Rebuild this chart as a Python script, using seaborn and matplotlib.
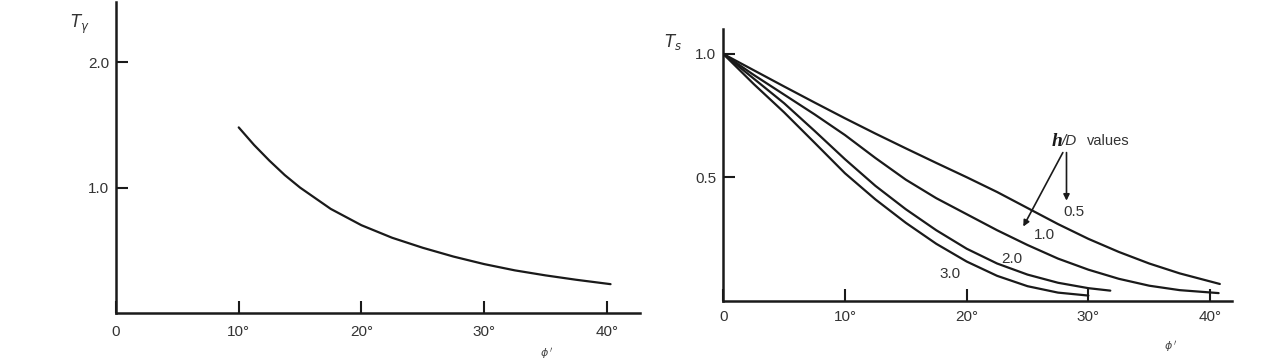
import matplotlib
matplotlib.use("Agg")
import matplotlib.pyplot as plt
import seaborn as sns
import pandas as pd

# ---- data: left panel (T_gamma vs phi) ----
phi_left = [10, 11.25, 12.5, 13.75, 15, 17.5, 20, 22.5, 25, 27.5, 30, 32.5, 35, 37.5, 40.3]
t_gamma = [1.48, 1.34, 1.215, 1.10, 1.0, 0.83, 0.70, 0.60, 0.52, 0.45, 0.39, 0.34, 0.30, 0.265, 0.23]

# ---- data: right panel (T_s vs phi for h/D values) ----
phi_05 = [0, 2.5, 5, 7.5, 10, 12.5, 15, 17.5, 20, 22.5, 25, 27.5, 30, 32.5, 35, 37.5, 40.8]
ts_05 = [1.0, 0.934, 0.868, 0.803, 0.739, 0.677, 0.617, 0.558, 0.50, 0.44, 0.375, 0.31, 0.25, 0.197, 0.15, 0.11, 0.067]
phi_10 = [0, 2.5, 5, 7.5, 10, 12.5, 15, 17.5, 20, 22.5, 25, 27.5, 30, 32.5, 35, 37.5, 40.7]
ts_10 = [1.0, 0.915, 0.835, 0.755, 0.671, 0.578, 0.49, 0.415, 0.35, 0.285, 0.225, 0.17, 0.125, 0.088, 0.06, 0.042, 0.03]
phi_20 = [0, 2.5, 5, 7.5, 10, 12.5, 15, 17.5, 20, 22.5, 25, 27.5, 30, 31.8]
ts_20 = [1.0, 0.9, 0.8, 0.688, 0.573, 0.465, 0.37, 0.285, 0.21, 0.15, 0.105, 0.072, 0.05, 0.04]
phi_30 = [0, 2.5, 5, 7.5, 10, 12.5, 15, 17.5, 20, 22.5, 25, 27.5, 30]
ts_30 = [1.0, 0.878, 0.763, 0.64, 0.516, 0.41, 0.315, 0.23, 0.158, 0.10, 0.058, 0.032, 0.02]
hd_labels = ["0.5", "1.0", "2.0", "3.0"]

x_ticks = [0, 10, 20, 30, 40]
x_ticklabels = ["0", "10°", "20°", "30°", "40°"]

sns.set_style("white")
plt.rcParams["font.family"] = ["Liberation Sans", "DejaVu Sans"]

W, H = 1265, 363
fig = plt.figure(figsize=(W / 100, H / 100), dpi=100)

ink = "#1a1a1a"

# left axes
axL = fig.add_axes([116 / W, (H - 313) / H, (640 - 116) / W, (313 - 2) / H])
# right axes
axR = fig.add_axes([723.3 / W, (H - 300.5) / H, (1232 - 723.3) / W, (300.5 - 29.3) / H])

dfL = pd.DataFrame({"phi": phi_left, "T": t_gamma})
sns.lineplot(data=dfL, x="phi", y="T", ax=axL, color=ink, lw=1.6)

series = [(phi_05, ts_05), (phi_10, ts_10), (phi_20, ts_20), (phi_30, ts_30)]
frames = []
for lab, (px, py) in zip(hd_labels, series):
    frames.append(pd.DataFrame({"phi": px, "T": py, "hD": lab}))
dfR = pd.concat(frames, ignore_index=True)
sns.lineplot(data=dfR, x="phi", y="T", hue="hD", palette=[ink] * 4,
             ax=axR, lw=1.6, legend=False, estimator=None, sort=True)

for ax in (axL, axR):
    for s in ("top", "right"):
        ax.spines[s].set_visible(False)
    for s in ("left", "bottom"):
        ax.spines[s].set_linewidth(1.8)
        ax.spines[s].set_color(ink)
    ax.set_xlabel("")
    ax.set_ylabel("")
    ax.set_xticks(x_ticks)
    ax.set_xticklabels(x_ticklabels)
    ax.tick_params(axis="both", direction="in", length=8.5, width=1.5,
                   bottom=True, left=True,
                   colors=ink, labelsize=11, labelcolor="#333333")

axL.set_xlim(0, 42.7)
axL.set_ylim(0, 2.48)
axL.set_yticks([1.0, 2.0])
axL.set_yticklabels(["1.0", "2.0"])
axL.tick_params(axis="x", pad=9)
axL.tick_params(axis="y", pad=5)

axR.set_xlim(0, 41.8)
axR.set_ylim(0, 1.10)
axR.set_yticks([0.5, 1.0])
axR.set_yticklabels(["0.5", "1.0"])
axR.tick_params(axis="x", pad=7)
axR.tick_params(axis="y", pad=5)

# axis titles
fig.text(80 / W, 1 - 24 / H, r"$T_\gamma$", ha="center", va="center", fontsize=12, color="#333333")
fig.text(673 / W, 1 - 42 / H, r"$T_s$", ha="center", va="center", fontsize=12, color="#333333")
fig.text(547 / W, 1 - 353 / H, r"$\phi\,'$", ha="center", va="center", fontsize=8, color="#444444")
fig.text(1171 / W, 1 - 347 / H, r"$\phi\,'$", ha="center", va="center", fontsize=8, color="#444444")

# curve labels
for lab, (x, y) in zip(hd_labels, [(28.8, 0.357), (26.35, 0.264), (23.7, 0.170), (18.63, 0.107)]):
    axR.text(x, y, lab, ha="center", va="center", fontsize=11, color="#333333")

# h/D values annotation
axR.text(27.0, 0.645, "h", ha="left", va="center", fontsize=14, fontweight="bold",
         style="italic", family="Liberation Serif", color=ink)
axR.text(27.85, 0.645, "/D", ha="left", va="center", fontsize=11, style="italic", color="#333333")
axR.text(29.9, 0.645, "values", ha="left", va="center", fontsize=10.5, color="#333333")
arrow = dict(arrowstyle="-|>", lw=1.2, color=ink, mutation_scale=9, shrinkA=0, shrinkB=0)
axR.annotate("", xy=(24.65, 0.30), xytext=(27.9, 0.60), arrowprops=arrow)
axR.annotate("", xy=(28.2, 0.405), xytext=(28.2, 0.60), arrowprops=arrow)

fig.savefig("out.png", dpi=100)
